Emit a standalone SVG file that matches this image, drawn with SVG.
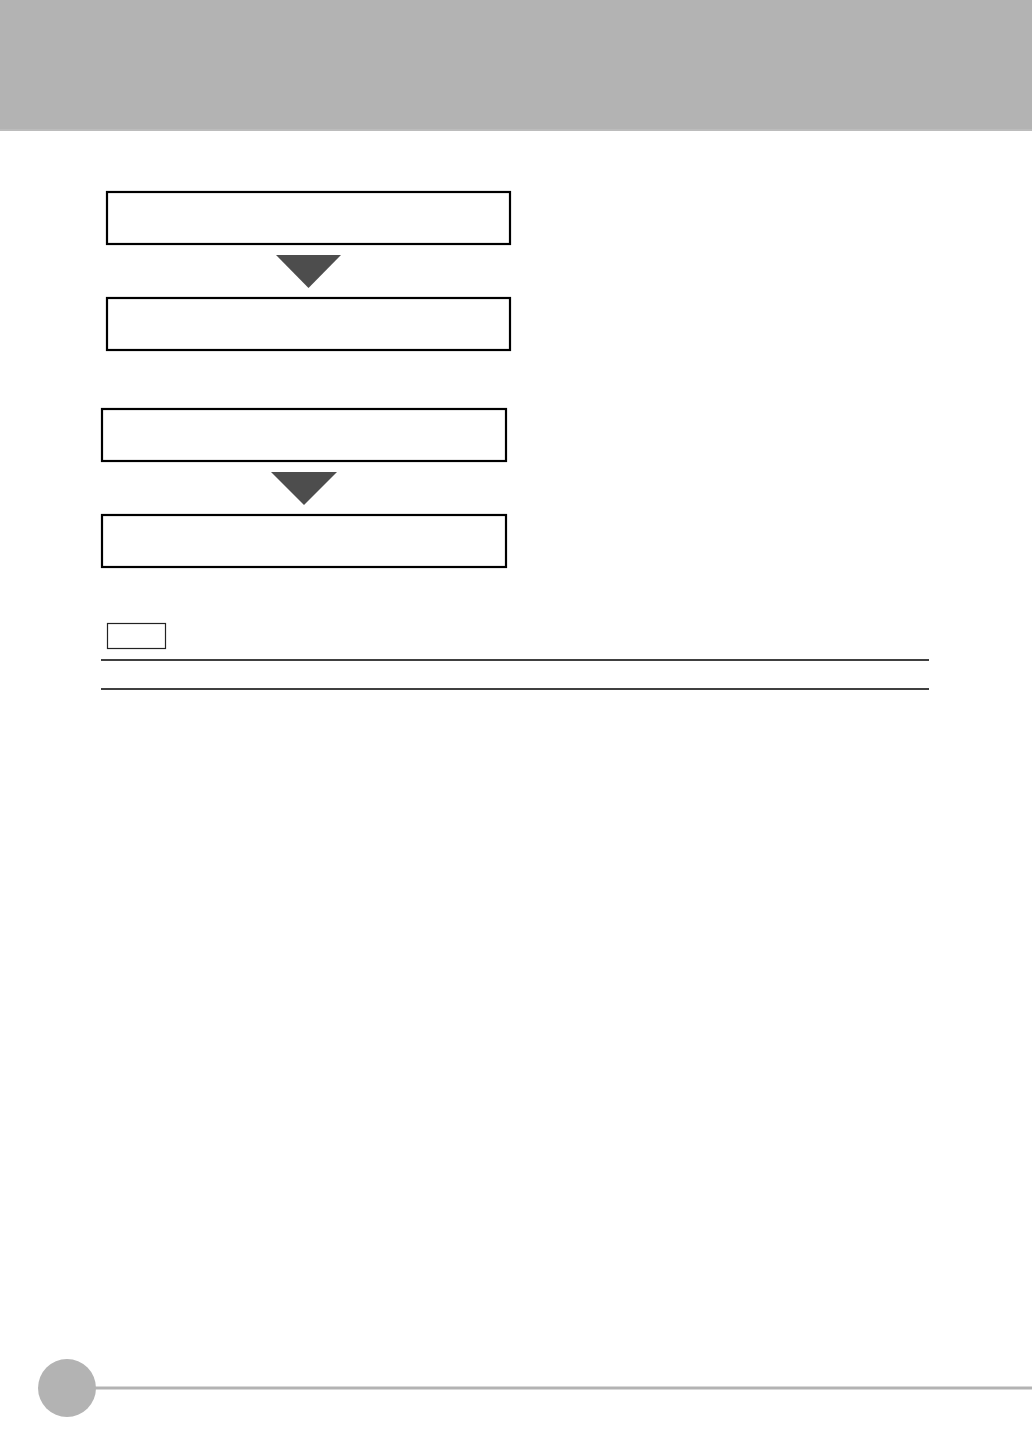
<svg xmlns="http://www.w3.org/2000/svg" width="1032" height="1456" viewBox="0 0 1032 1456">
<style>
.box{fill:#fff;stroke:#000;stroke-width:2.2}
.tri{fill:#4d4d4d}
.rule{stroke:#000;stroke-width:1.4}
</style>
<rect x="0" y="0" width="1032" height="1456" fill="#fff"/>
<rect x="0" y="0" width="1032" height="129" fill="#b3b3b3"/>
<rect x="0" y="129" width="1032" height="2" fill="#bcbcbc"/>
<g id="node1"><rect class="box" x="107" y="192" width="403" height="52"/></g>
<g id="node2"><rect class="box" x="107" y="298" width="403" height="52"/></g>
<g id="node3"><rect class="box" x="102" y="409" width="404" height="52"/></g>
<g id="node4"><rect class="box" x="102" y="515" width="404" height="52"/></g>
<g id="connectors">
<polygon class="tri" points="276,255 341,255 308.5,288"/>
<polygon class="tri" points="271,472 337,472 304,505"/>
</g>
<g id="note"><rect x="107.5" y="623.5" width="58" height="25" fill="#fff" stroke="#222" stroke-width="1.2"/></g>
<line class="rule" x1="101" y1="660" x2="929" y2="660"/>
<line class="rule" x1="101" y1="689" x2="929" y2="689"/>
<g id="footer">
<line x1="90" y1="1388" x2="1032" y2="1388" stroke="#b3b3b3" stroke-width="3"/>
<circle cx="67" cy="1388" r="29" fill="#b3b3b3"/>
</g>
</svg>
